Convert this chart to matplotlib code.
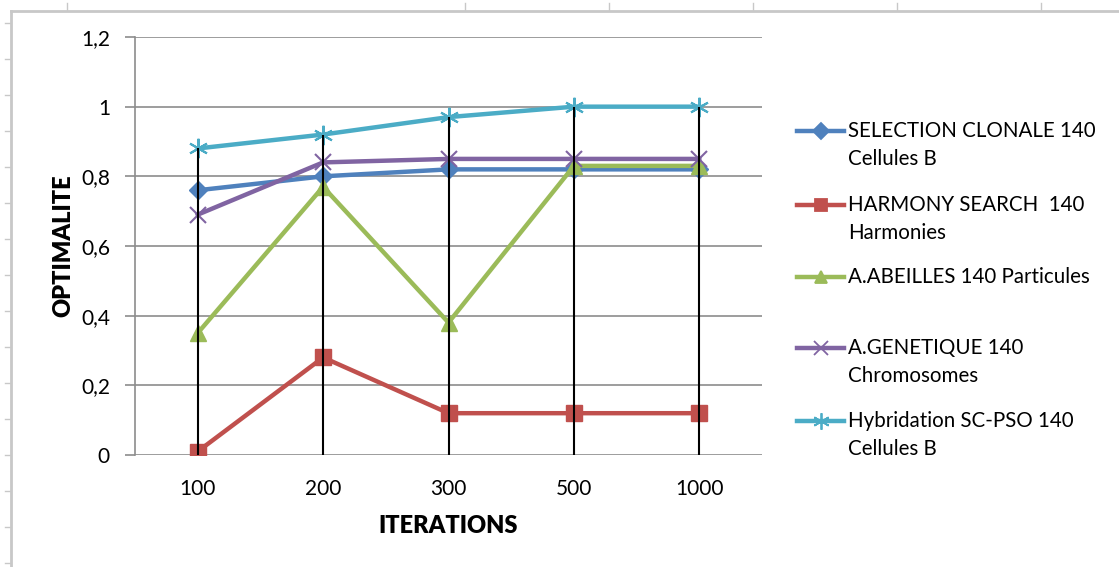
import numpy as np
import matplotlib.pyplot as plt
from matplotlib.lines import Line2D

plt.rcParams['font.family'] = ['Lato', 'DejaVu Sans']

# donnees
iterations = ['100', '200', '300', '500', '1000']
selection_clonale = [0.76, 0.80, 0.82, 0.82, 0.82]
harmony_search = [0.01, 0.28, 0.12, 0.12, 0.12]
abeilles = [0.35, 0.77, 0.38, 0.83, 0.83]
genetique = [0.69, 0.84, 0.85, 0.85, 0.85]
hybridation = [0.88, 0.92, 0.97, 1.0, 1.0]

noms = ['SELECTION CLONALE 140\nCellules B',
        'HARMONY SEARCH  140\nHarmonies',
        'A.ABEILLES 140 Particules',
        'A.GENETIQUE 140\nChromosomes',
        'Hybridation SC-PSO 140\nCellules B']
yticks = [0, 0.2, 0.4, 0.6, 0.8, 1.0, 1.2]
ytick_labels = ['0', '0,2', '0,4', '0,6', '0,8', '1', '1,2']

series = [selection_clonale, harmony_search, abeilles, genetique, hybridation]
couleurs = ['#4F81BD', '#C0504D', '#9BBB59', '#8064A2', '#4BACC6']
marqueurs = ['D', 's', '^', 'x', (6, 2, 0)]
tailles = [9, 11, 11, 12, 14]

W, H = 1119, 567
fig = plt.figure(figsize=(W / 100, H / 100), dpi=100)
ax = fig.add_axes([135 / W, 1 - 455 / H, (762 - 135) / W, (455 - 37) / H])

x = np.arange(len(iterations))
for vals, c, m, s in zip(series, couleurs, marqueurs, tailles):
    ax.plot(x, vals, color=c, lw=3.2, marker=m, ms=s, mew=1.5 if m in ('x',) or isinstance(m, tuple) else 1,
            mec=c, mfc=c, zorder=3, solid_joinstyle='round')

# lignes de projection
hauts = np.max(np.array(series), axis=0)
ax.vlines(x, 0, hauts, color='black', lw=1.5, zorder=4)

ax.set_xlim(-0.5, len(iterations) - 0.5)
ax.set_ylim(0, 1.2)
ax.set_yticks(yticks)
ax.set_yticklabels(ytick_labels, fontsize=15)
ax.set_xticks(x)
ax.set_xticklabels(iterations, fontsize=15)
ax.tick_params(axis='x', length=0, pad=17)
ax.tick_params(axis='y', length=7, width=1.2, color='#8C8C8C', pad=11)
ax.grid(axis='y', color='#8C8C8C', lw=1.2)
ax.set_axisbelow(True)
for sp in ['top', 'right', 'bottom']:
    ax.spines[sp].set_visible(False)
ax.spines['left'].set_color('#8C8C8C')
ax.spines['left'].set_linewidth(1.2)

ax.set_xlabel('ITERATIONS', fontsize=17, fontweight='heavy', labelpad=12)
ax.set_ylabel('OPTIMALITE', fontsize=17, fontweight='heavy', labelpad=5)

# legende
leg_y = [131, 205, 277, 348, 421]
for nom, c, m, s, yy in zip(noms, couleurs, marqueurs, tailles, leg_y):
    fy = 1 - yy / H
    fig.add_artist(Line2D([797 / W, 844 / W], [fy, fy], transform=fig.transFigure,
                          color=c, lw=3.2))
    fig.add_artist(Line2D([820.5 / W], [fy], transform=fig.transFigure, color=c,
                          marker=m, ms=s * 0.85, mfc=c, mec=c, mew=1.3, lw=0))
    for i, ligne in enumerate(nom.split('\n')):
        fig.text(848 / W, 1 - (yy + 28 * i) / H, ligne, fontsize=14.8, va='center', ha='left')

# cadre de la feuille
gris = '#C8C8C8'
fig.add_artist(Line2D([11 / W, 1], [1 - 11 / H] * 2, transform=fig.transFigure, color=gris, lw=2))
fig.add_artist(Line2D([11 / W] * 2, [0, 1 - 11 / H], transform=fig.transFigure, color=gris, lw=2))
for px in [67, 465, 609, 753, 897, 1041]:
    fig.add_artist(Line2D([px / W] * 2, [1 - 3 / H, 1 - 10 / H], transform=fig.transFigure, color=gris, lw=1))
for py in range(23, 567, 36):
    fig.add_artist(Line2D([5 / W, 10 / W], [1 - py / H] * 2, transform=fig.transFigure, color=gris, lw=1))

fig.savefig('out.png', dpi=100)
